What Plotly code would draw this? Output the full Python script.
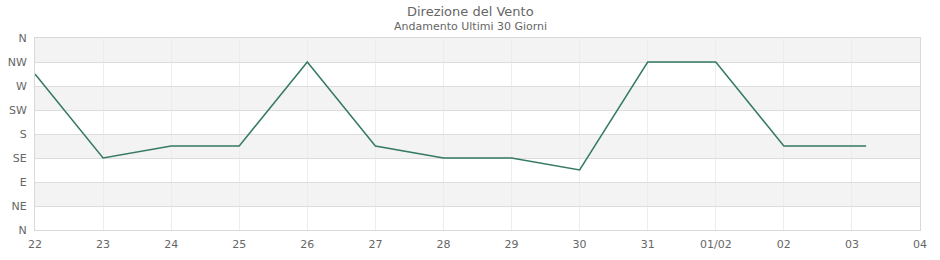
import plotly.graph_objects as go

dates = ["2025-01-22", "2025-01-23", "2025-01-24", "2025-01-25", "2025-01-26",
         "2025-01-27", "2025-01-28", "2025-01-29", "2025-01-30", "2025-01-31",
         "2025-02-01", "2025-02-02", "2025-02-03 05:00"]
direction = [292.5, 135, 157.5, 157.5, 315, 157.5, 135, 135, 112.5, 315, 315, 157.5, 157.5]

y_tickvals = [0, 45, 90, 135, 180, 225, 270, 315, 360]
y_ticktext = ["N", "NE", "E", "SE", "S", "SW", "W", "NW", "N"]

x_tickvals = ["2025-01-22", "2025-01-23", "2025-01-24", "2025-01-25", "2025-01-26",
              "2025-01-27", "2025-01-28", "2025-01-29", "2025-01-30", "2025-01-31",
              "2025-02-01", "2025-02-02", "2025-02-03", "2025-02-04"]
x_ticktext = ["22", "23", "24", "25", "26", "27", "28", "29", "30", "31",
              "01/02", "02", "03", "04"]

W, H = 940, 260
ML, MR, MT, MB = 35, 20, 38, 30
title_x = (W / 2 - ML) / (W - ML - MR)

fig = go.Figure()
fig.add_trace(go.Scatter(x=dates, y=direction, mode="lines",
                         line=dict(color="#357a62", width=1.5),
                         hoverinfo="x+y"))

shapes = []
for i in range(1, len(y_tickvals) - 1, 2):
    shapes.append(dict(type="rect", xref="paper", yref="y", x0=0, x1=1,
                       y0=y_tickvals[i], y1=y_tickvals[i + 1],
                       fillcolor="#f3f3f3", line=dict(width=0), layer="below"))

fig.update_layout(
    width=W, height=H,
    margin=dict(l=ML, r=MR, t=MT, b=MB),
    paper_bgcolor="white", plot_bgcolor="white",
    font=dict(family="DejaVu Sans", size=11, color="#666"),
    showlegend=False,
    shapes=shapes,
    annotations=[
        dict(text="Direzione del Vento", xref="paper", yref="paper", x=title_x, y=1,
             yshift=27, showarrow=False, font=dict(size=13, color="#666"),
             xanchor="center", yanchor="middle"),
        dict(text="Andamento Ultimi 30 Giorni", xref="paper", yref="paper", x=title_x, y=1,
             yshift=12, showarrow=False, font=dict(size=11, color="#666"),
             xanchor="center", yanchor="middle"),
    ],
)
fig.update_xaxes(
    type="date", range=["2025-01-22", "2025-02-04"],
    tickvals=x_tickvals, ticktext=x_ticktext, automargin=False,
    showgrid=True, gridcolor="#ececf4", gridwidth=1,
    showline=True, linecolor="#d9d9d9", linewidth=1, mirror=True,
    ticks="", ticklabelstandoff=4, zeroline=False,
    tickfont=dict(size=11, color="#666"),
)
fig.update_yaxes(
    range=[0, 360], tickvals=y_tickvals, ticktext=y_ticktext, automargin=False,
    showgrid=True, gridcolor="#dddddd", gridwidth=1,
    showline=True, linecolor="#d9d9d9", linewidth=1, mirror=True,
    ticks="", ticklabelstandoff=5, zeroline=False,
    tickfont=dict(size=11, color="#666"),
)

fig.write_html("out.html")
